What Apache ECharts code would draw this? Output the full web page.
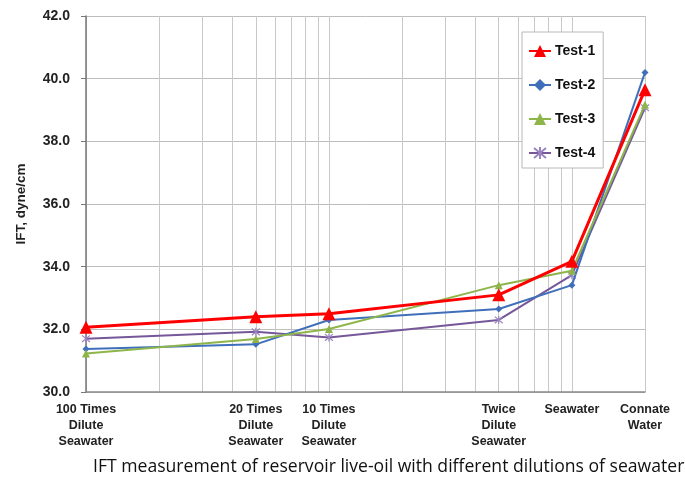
<!DOCTYPE html>
<html>
<head>
<meta charset="utf-8">
<script src="https://cdn.jsdelivr.net/npm/echarts@6/dist/echarts.min.js"></script>
<style>
  html, body { margin: 0; padding: 0; background: #fff; }
  #chart { width: 685px; height: 479px; }
</style>
</head>
<body>
<div id="chart"></div>
<script>
// Dilution level expressed as percent of full-strength seawater (log x axis)
const dilutionPct = [1, 5, 10, 50, 100, 200];
const categoryLabels = [
  '100 Times\nDilute\nSeawater',
  '20 Times\nDilute\nSeawater',
  '10 Times\nDilute\nSeawater',
  'Twice\nDilute\nSeawater',
  'Seawater',
  'Connate\nWater'
];
// Log grid lines: 1..9, 10..90, 100, 200
const gridValues = [1, 2, 3, 4, 5, 6, 7, 8, 9, 10, 20, 30, 40, 50, 60, 70, 80, 90, 100, 200];

// IFT readings, dyne/cm
const test1 = [32.07, 32.4, 32.5, 33.1, 34.17, 39.65];
const test2 = [31.37, 31.52, 32.3, 32.65, 33.41, 40.2];
const test3 = [31.23, 31.69, 32.01, 33.41, 33.87, 39.17];
const test4 = [31.7, 31.92, 31.74, 32.3, 33.73, 39.07];

const yTicks = [30, 32, 34, 36, 38, 40, 42];

function pairs(vals) {
  return dilutionPct.map((x, i) => [x, vals[i]]);
}

const starPath = 'path://M0,0L10,10M10,0L0,10M5,-1L5,11';

const chart = echarts.init(document.getElementById('chart'), null, { renderer: 'canvas' });

const labelFont = { fontFamily: 'Liberation Sans, Arial, sans-serif', fontWeight: 'bold', color: '#222' };

chart.setOption({
  animation: false,
  backgroundColor: '#fff',
  grid: { left: 86, right: 40, top: 16, bottom: 87, containLabel: false },
  xAxis: {
    type: 'log',
    logBase: 10,
    min: 1,
    max: 200,
    axisLine: { show: true, lineStyle: { color: '#8a8a8a', width: 1.5 } },
    axisTick: { show: false, customValues: gridValues },
    splitLine: { show: true, lineStyle: { color: '#c8c8c8', width: 1 } },
    axisLabel: {
      customValues: dilutionPct,
      margin: 10,
      fontSize: 12.5,
      lineHeight: 16,
      align: 'center',
      ...labelFont,
      formatter: (v) => {
        const idx = dilutionPct.findIndex(d => Math.abs(d - v) < 1e-6);
        return idx >= 0 ? categoryLabels[idx] : '';
      }
    }
  },
  yAxis: {
    type: 'value',
    min: yTicks[0],
    max: yTicks[yTicks.length - 1],
    interval: 2,
    name: 'IFT, dyne/cm',
    nameLocation: 'middle',
    nameGap: 58,
    nameRotate: 90,
    nameTextStyle: { fontSize: 13.5, ...labelFont },
    axisLine: { show: true, lineStyle: { color: '#777', width: 1.5 } },
    axisTick: { show: true, length: 5, lineStyle: { color: '#777' } },
    splitLine: { show: true, lineStyle: { color: '#bdbdbd', width: 1 } },
    axisLabel: {
      fontSize: 14,
      margin: 16,
      ...labelFont,
      formatter: (v) => v.toFixed(1)
    }
  },
  legend: {
    orient: 'vertical',
    left: 522,
    top: 32,
    width: 81,
    padding: [12, 8, 8, 6],
    itemGap: 20,
    itemWidth: 22,
    itemHeight: 15,
    backgroundColor: '#fff',
    borderColor: '#b8b8b8',
    borderWidth: 1,
    textStyle: { fontSize: 14, padding: [0, 0, 0, -1], ...labelFont, color: '#111' },
    data: ['Test-1', 'Test-2', 'Test-3', 'Test-4']
  },
  graphic: [{
    type: 'text',
    left: 93,
    top: 458,
    style: {
      text: 'IFT measurement of reservoir live-oil with different dilutions of seawater',
      fontFamily: 'Open Sans, Noto Sans, sans-serif',
      fontSize: 17.6,
      fill: '#111'
    }
  }],
  series: [
    {
      name: 'Test-2', type: 'line', data: pairs(test2), z: 3,
      symbol: 'diamond', symbolSize: 7,
      lineStyle: { color: '#3f6fba', width: 2 },
      itemStyle: { color: '#3f6fba' }
    },
    {
      name: 'Test-3', type: 'line', data: pairs(test3), z: 4,
      symbol: 'triangle', symbolSize: 8,
      lineStyle: { color: '#8db54a', width: 2 },
      itemStyle: { color: '#8db54a' }
    },
    {
      name: 'Test-4', type: 'line', data: pairs(test4), z: 2,
      symbol: starPath, symbolSize: 8,
      lineStyle: { color: '#76579a', width: 2 },
      itemStyle: { color: '#76579a', borderColor: '#9a84c0', borderWidth: 1.2 }
    },
    {
      name: 'Test-1', type: 'line', data: pairs(test1), z: 5,
      symbol: 'triangle', symbolSize: 13,
      lineStyle: { color: '#ff0000', width: 3 },
      itemStyle: { color: '#ff0000' }
    }
  ]
});
</script>
</body>
</html>
